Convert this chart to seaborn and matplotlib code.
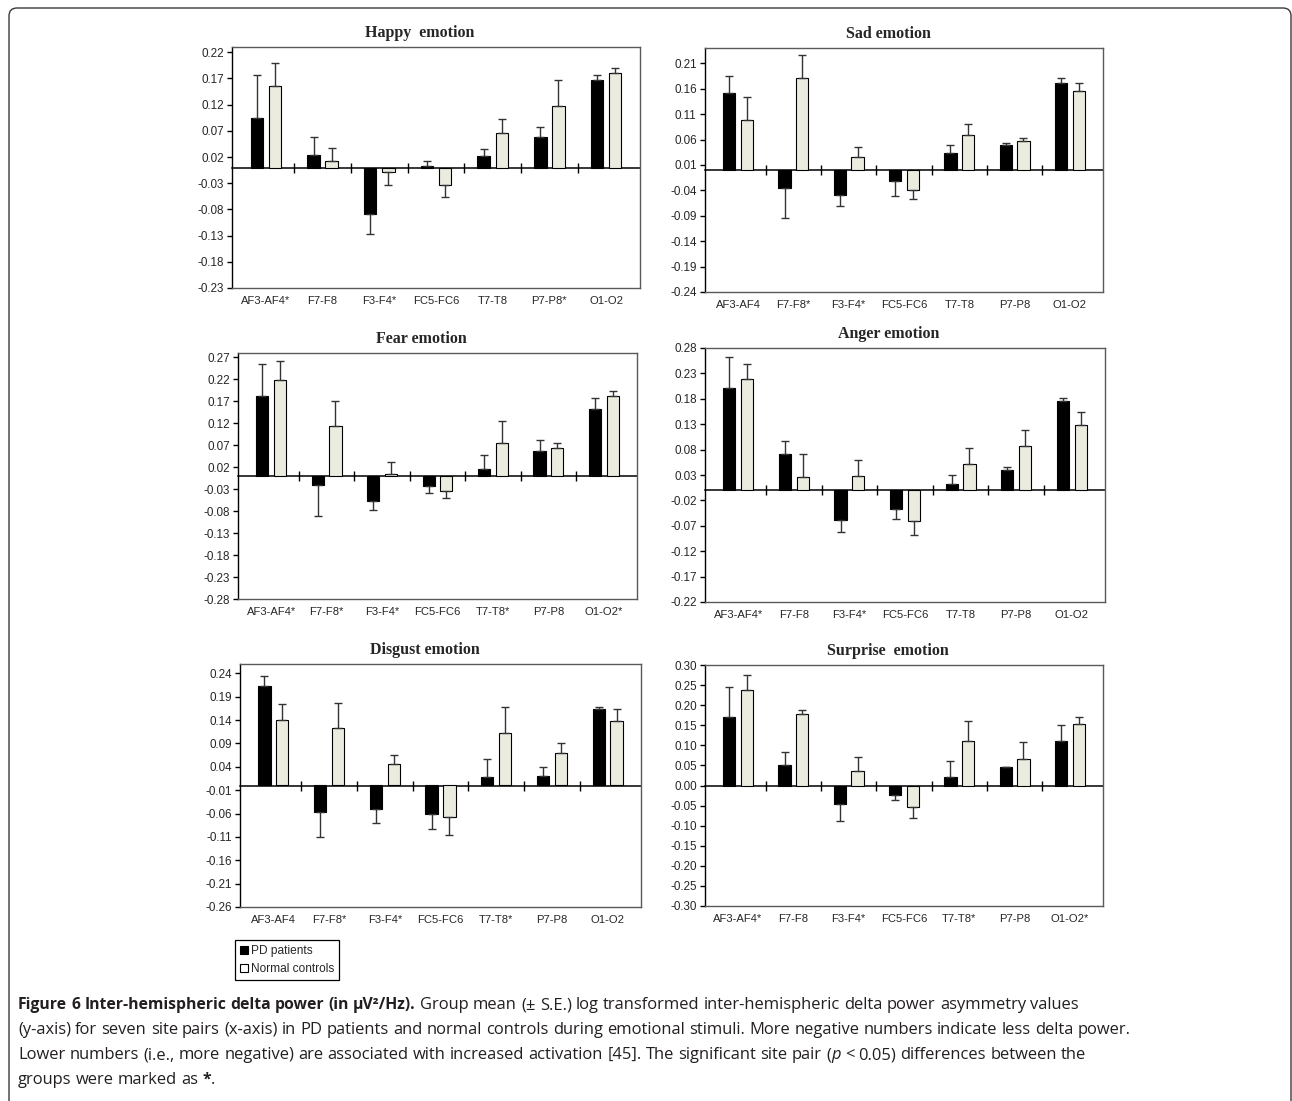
import numpy as np
import pandas as pd
import matplotlib
matplotlib.use("Agg")
import matplotlib.pyplot as plt
import seaborn as sns
from matplotlib.patches import FancyBboxPatch, Patch

# site pairs (x axis) and the two groups
sites = ["AF3-AF4", "F7-F8", "F3-F4", "FC5-FC6", "T7-T8", "P7-P8", "O1-O2"]
groups = ["PD patients", "Normal controls"]

# Happy emotion
happy_labels = ["AF3-AF4*", "F7-F8", "F3-F4*", "FC5-FC6", "T7-T8", "P7-P8*", "O1-O2"]
happy_pd = [0.095, 0.024, -0.088, 0.003, 0.022, 0.059, 0.167]
happy_pd_se = [0.082, 0.034, 0.039, 0.009, 0.014, 0.018, 0.010]
happy_nc = [0.155, 0.012, -0.008, -0.034, 0.065, 0.118, 0.181]
happy_nc_se = [0.045, 0.026, 0.025, 0.022, 0.028, 0.049, 0.009]

# Sad emotion
sad_labels = ["AF3-AF4", "F7-F8*", "F3-F4*", "FC5-FC6", "T7-T8", "P7-P8", "O1-O2"]
sad_pd = [0.151, -0.036, -0.049, -0.021, 0.034, 0.050, 0.172]
sad_pd_se = [0.034, 0.058, 0.021, 0.030, 0.016, 0.004, 0.009]
sad_nc = [0.098, 0.181, 0.025, -0.039, 0.069, 0.057, 0.155]
sad_nc_se = [0.045, 0.045, 0.021, 0.019, 0.021, 0.005, 0.017]

# Fear emotion
fear_labels = ["AF3-AF4*", "F7-F8*", "F3-F4*", "FC5-FC6", "T7-T8*", "P7-P8", "O1-O2*"]
fear_pd = [0.183, -0.021, -0.056, -0.022, 0.015, 0.057, 0.152]
fear_pd_se = [0.071, 0.069, 0.021, 0.016, 0.032, 0.024, 0.026]
fear_nc = [0.219, 0.114, 0.005, -0.034, 0.076, 0.064, 0.181]
fear_nc_se = [0.042, 0.057, 0.027, 0.017, 0.050, 0.012, 0.012]

# Anger emotion
anger_labels = ["AF3-AF4*", "F7-F8", "F3-F4*", "FC5-FC6", "T7-T8", "P7-P8", "O1-O2"]
anger_pd = [0.202, 0.071, -0.059, -0.036, 0.012, 0.039, 0.175]
anger_pd_se = [0.061, 0.025, 0.023, 0.021, 0.018, 0.006, 0.006]
anger_nc = [0.219, 0.027, 0.028, -0.061, 0.052, 0.088, 0.128]
anger_nc_se = [0.029, 0.045, 0.031, 0.027, 0.031, 0.031, 0.027]

# Disgust emotion
disgust_labels = ["AF3-AF4", "F7-F8*", "F3-F4*", "FC5-FC6", "T7-T8*", "P7-P8", "O1-O2"]
disgust_pd = [0.213, -0.056, -0.051, -0.062, 0.019, 0.021, 0.163]
disgust_pd_se = [0.021, 0.055, 0.029, 0.031, 0.038, 0.018, 0.005]
disgust_nc = [0.141, 0.123, 0.046, -0.068, 0.112, 0.070, 0.137]
disgust_nc_se = [0.033, 0.054, 0.020, 0.037, 0.055, 0.022, 0.027]

# Surprise emotion
surprise_labels = ["AF3-AF4*", "F7-F8", "F3-F4*", "FC5-FC6", "T7-T8*", "P7-P8", "O1-O2*"]
surprise_pd = [0.171, 0.052, -0.047, -0.024, 0.022, 0.045, 0.111]
surprise_pd_se = [0.073, 0.032, 0.041, 0.012, 0.039, 0.002, 0.039]
surprise_nc = [0.238, 0.179, 0.035, -0.054, 0.111, 0.066, 0.153]
surprise_nc_se = [0.036, 0.010, 0.036, 0.026, 0.049, 0.043, 0.018]

# y axis ranges (Excel style, major unit 0.05 from the minimum)
happy_ylim = (-0.23, 0.23)
sad_ylim = (-0.24, 0.24)
fear_ylim = (-0.28, 0.28)
anger_ylim = (-0.22, 0.28)
disgust_ylim = (-0.26, 0.26)
surprise_ylim = (-0.30, 0.30)

W, H = 1292, 1101
PD_COLOR = "#000000"
NC_COLOR = "#ECEBE0"

sns.set_theme(style="white")
plt.rcParams["font.family"] = ["Liberation Sans", "DejaVu Sans"]

fig = plt.figure(figsize=(W / 100, H / 100), dpi=100)

# full-figure overlay in pixel units: outer frame + caption
bg = fig.add_axes([0, 0, 1, 1], zorder=-5)
bg.set_xlim(0, W)
bg.set_ylim(H, 0)
bg.axis("off")
bg.add_patch(FancyBboxPatch((9, 8), 1282, 1120, boxstyle="round,pad=0,rounding_size=8",
                            fc="none", ec="#3a3a3a", lw=1.0, clip_on=False))


def draw_panel(box, title, labels, pd_vals, pd_se, nc_vals, nc_se, ylim):
    l, t, r, b = box
    ax = fig.add_axes([l / W, 1 - b / H, (r - l) / W, (b - t) / H])
    df = pd.DataFrame({
        "site": sites * 2,
        "group": [groups[0]] * len(sites) + [groups[1]] * len(sites),
        "value": pd_vals + nc_vals,
    })
    sns.barplot(data=df, x="site", y="value", hue="group", order=sites, hue_order=groups,
                palette=[PD_COLOR, NC_COLOR], saturation=1, width=0.64, gap=0.31,
                edgecolor="black", linewidth=0.8, errorbar=None, legend=False, ax=ax)

    # one-sided S.E. bars, pointing away from zero
    for cont, se in zip(ax.containers, [pd_se, nc_se]):
        for bar, e in zip(cont, se):
            x = bar.get_x() + bar.get_width() / 2
            h = bar.get_height()
            yerr = [[0], [e]] if h >= 0 else [[e], [0]]
            ax.errorbar(x, h, yerr=yerr, fmt="none", ecolor="#333333",
                        elinewidth=1.0, capsize=2.8, capthick=1.0, zorder=1)

    ax.set_ylim(*ylim)
    ticks = np.round(np.arange(ylim[0], ylim[1] + 1e-9, 0.05), 2)
    ax.set_yticks(ticks)
    ax.set_yticklabels([f"{v + 0.0:.2f}" for v in ticks], fontsize=8.4)
    ax.set_xticks(range(len(sites)))
    ax.set_xticklabels(labels, fontsize=8.1)
    ax.tick_params(axis="x", length=0, pad=6)
    ax.tick_params(axis="y", direction="out", length=3.5, width=1, color="black", pad=2.5, left=True)
    ax.set_xlabel("")
    ax.set_ylabel("")
    for s in ax.spines.values():
        s.set_color("#5a5a5a")
        s.set_linewidth(1.0)
    ax.spines["left"].set_color("black")

    # zero line with category separators
    sec = ax.secondary_xaxis(0, transform=ax.transData)
    sec.set_xticks(np.arange(len(sites) - 1) + 0.5)
    sec.tick_params(direction="inout", length=7, width=1, color="black", labelbottom=False)
    sec.spines["bottom"].set_color("black")
    sec.spines["bottom"].set_linewidth(1.1)

    ax.set_title(title, x=0.5 - 16 / (r - l), pad=7, fontsize=11.5, fontweight="bold",
                 family=["Liberation Serif", "DejaVu Serif"])
    return ax


draw_panel((232, 47, 640, 288), "Happy  emotion", happy_labels, happy_pd, happy_pd_se,
           happy_nc, happy_nc_se, happy_ylim)
draw_panel((705, 48, 1103, 292), "Sad emotion", sad_labels, sad_pd, sad_pd_se,
           sad_nc, sad_nc_se, sad_ylim)
draw_panel((238, 353, 637, 599), "Fear emotion", fear_labels, fear_pd, fear_pd_se,
           fear_nc, fear_nc_se, fear_ylim)
draw_panel((705, 348, 1105, 602), "Anger emotion", anger_labels, anger_pd, anger_pd_se,
           anger_nc, anger_nc_se, anger_ylim)
draw_panel((240, 664, 641, 907), "Disgust emotion", disgust_labels, disgust_pd, disgust_pd_se,
           disgust_nc, disgust_nc_se, disgust_ylim)
draw_panel((705, 665, 1103, 906), "Surprise  emotion", surprise_labels, surprise_pd, surprise_pd_se,
           surprise_nc, surprise_nc_se, surprise_ylim)

handles = [Patch(fc="black", ec="black", lw=0.8), Patch(fc="white", ec="black", lw=0.8)]
leg = fig.legend(handles, groups, loc="upper left", bbox_to_anchor=(235 / W, 1 - 940 / H),
                 borderaxespad=0, fontsize=8.6, handlelength=0.65, handleheight=0.65,
                 handletextpad=0.3, labelspacing=0.5, borderpad=0.4,
                 fancybox=False, framealpha=1, edgecolor="black")
leg.get_frame().set_linewidth(0.9)

# caption
cap_font = ["Open Sans", "DejaVu Sans"]
cap_size = 11.9
cap_bold_size = 11.3
renderer = fig.canvas.get_renderer()


def words(s, weight="normal", style="normal", first_space=True):
    out = []
    for i, w in enumerate(s.split()):
        out.append((w, weight, style, first_space if i == 0 else True))
    return out


def text_width(s, **kw):
    t = bg.text(0, 0, s, **kw)
    w = t.get_window_extent(renderer).width
    t.remove()
    return w


def space_width(size, weight="normal"):
    return (text_width("x x", fontsize=size, fontweight=weight, family=cap_font)
            - text_width("xx", fontsize=size, fontweight=weight, family=cap_font))


def caption_line(y, tokens, left=18):
    sp_reg = space_width(cap_size)
    sp_bold = space_width(cap_bold_size, "bold")
    x = left
    prev_bold = False
    for i, (word, weight, style, sp) in enumerate(tokens):
        bold = weight == "bold"
        if i > 0 and sp:
            x += sp_bold if (bold and prev_bold) else sp_reg
        t = bg.text(x, y, word, fontsize=cap_bold_size if bold else cap_size,
                    fontweight=weight, fontstyle=style, family=cap_font,
                    va="baseline", ha="left", color="#231f20")
        x += t.get_window_extent(renderer).width
        prev_bold = bold


caption_line(1009, words("Figure 6 Inter-hemispheric delta power (in µV²/Hz).", "bold")
             + words("Group mean (± S.E.) log transformed inter-hemispheric delta power asymmetry values"))
caption_line(1034, words("(y-axis) for seven site pairs (x-axis) in PD patients and normal controls during "
                         "emotional stimuli. More negative numbers indicate less delta power."))
caption_line(1059, words("Lower numbers (i.e., more negative) are associated with increased activation [45]. "
                         "The significant site pair (")
             + [("p", "normal", "italic", False)]
             + words("< 0.05) differences between the"))
caption_line(1084, words("groups were marked as") + [("*", "bold", "normal", True), (".", "normal", "normal", False)])

fig.savefig("out.png", dpi=100)
